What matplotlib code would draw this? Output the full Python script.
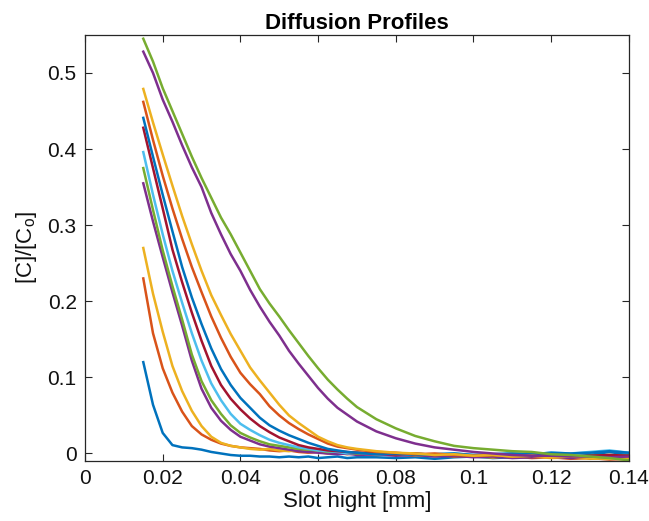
"""Diffusion profiles: normalised concentration vs. slot height, MATLAB look."""
import numpy as np
import matplotlib
matplotlib.use("Agg")
import matplotlib.pyplot as plt
from matplotlib.ticker import FuncFormatter

# sample positions along the slot [mm]
x = [0.015, 0.0175, 0.02, 0.0225, 0.025, 0.0275, 0.03, 0.0325, 0.035, 0.0375,
     0.04, 0.0425, 0.045, 0.0475, 0.05, 0.0525, 0.055, 0.0575, 0.06, 0.0625,
     0.065, 0.0675, 0.07, 0.075, 0.08, 0.085, 0.09, 0.095, 0.1, 0.105,
     0.11, 0.115, 0.12, 0.125, 0.13, 0.135, 0.14]

# [C]/[Co] profiles, in plotting order
p01 = [0.120, 0.064, 0.027, 0.011, 0.008, 0.007, 0.005, 0.002, 0.000, -0.002,
       -0.003, -0.003, -0.004, -0.004, -0.005, -0.004, -0.005, -0.004, -0.006, -0.005,
       -0.004, -0.006, -0.005, -0.005, -0.006, -0.005, -0.007, -0.005, -0.004, -0.006,
       -0.005, -0.004, -0.003, -0.004, -0.002, 0.002, -0.002]
p02 = [0.230, 0.158, 0.112, 0.080, 0.055, 0.036, 0.025, 0.018, 0.013, 0.010,
       0.008, 0.007, 0.006, 0.004, 0.003, 0.004, 0.002, 0.001, 0.002, 0.000,
       0.001, -0.001, 0.000, -0.002, -0.001, -0.003, -0.002, -0.004, -0.003, -0.005,
       -0.004, -0.006, -0.005, -0.007, -0.006, -0.008, -0.007]
p03 = [0.270, 0.210, 0.160, 0.115, 0.082, 0.056, 0.036, 0.022, 0.014, 0.010,
       0.008, 0.006, 0.005, 0.006, 0.004, 0.003, 0.005, 0.002, 0.003, 0.001,
       0.002, 0.000, 0.001, -0.001, 0.000, -0.002, -0.003, -0.002, -0.004, -0.005,
       -0.003, -0.004, -0.006, -0.005, -0.007, -0.006, -0.008]
p04 = [0.355, 0.305, 0.258, 0.212, 0.168, 0.122, 0.085, 0.060, 0.043, 0.031,
       0.022, 0.017, 0.012, 0.009, 0.007, 0.005, 0.003, 0.002, 0.001, 0.000,
       -0.001, 0.000, -0.002, -0.001, -0.003, -0.002, -0.004, -0.003, -0.005, -0.004,
       -0.006, -0.005, -0.004, -0.006, -0.005, -0.004, -0.005]
p05 = [0.375, 0.320, 0.267, 0.220, 0.176, 0.130, 0.095, 0.070, 0.052, 0.037,
       0.027, 0.021, 0.016, 0.012, 0.010, 0.008, 0.006, 0.005, 0.004, 0.002,
       0.003, 0.001, 0.000, 0.001, -0.001, 0.000, -0.002, -0.001, -0.003, -0.002,
       -0.004, -0.003, -0.002, -0.004, -0.003, -0.002, -0.003]
p06 = [0.396, 0.340, 0.288, 0.240, 0.198, 0.158, 0.122, 0.092, 0.070, 0.052,
       0.039, 0.031, 0.024, 0.018, 0.014, 0.011, 0.008, 0.006, 0.004, 0.003,
       0.002, 0.000, 0.001, -0.001, 0.000, -0.002, -0.001, 0.000, -0.002, -0.001,
       0.000, -0.001, 0.001, 0.000, 0.002, 0.004, 0.001]
p07 = [0.428, 0.375, 0.322, 0.268, 0.225, 0.185, 0.148, 0.115, 0.090, 0.072,
       0.058, 0.046, 0.036, 0.028, 0.021, 0.016, 0.011, 0.008, 0.006, 0.004,
       0.003, 0.002, 0.001, 0.000, -0.001, 0.000, -0.002, -0.001, -0.003, -0.002,
       -0.001, -0.003, -0.002, -0.004, -0.003, -0.002, -0.003]
p08 = [0.441, 0.390, 0.340, 0.292, 0.245, 0.205, 0.170, 0.138, 0.111, 0.090,
       0.073, 0.060, 0.047, 0.037, 0.030, 0.024, 0.019, 0.014, 0.010, 0.006,
       0.004, 0.002, 0.001, -0.001, 0.000, -0.002, -0.001, 0.000, -0.002, -0.001,
       0.000, -0.001, 0.001, 0.000, 0.001, 0.003, 0.001]
p09 = [0.462, 0.412, 0.365, 0.322, 0.282, 0.245, 0.212, 0.180, 0.152, 0.127,
       0.106, 0.091, 0.078, 0.062, 0.050, 0.040, 0.032, 0.025, 0.019, 0.013,
       0.009, 0.007, 0.005, 0.002, 0.001, -0.001, 0.000, -0.002, -0.003, -0.002,
       -0.004, -0.003, -0.005, -0.004, -0.006, -0.005, -0.006]
p10 = [0.479, 0.435, 0.393, 0.352, 0.312, 0.275, 0.240, 0.208, 0.182, 0.157,
       0.135, 0.113, 0.096, 0.080, 0.064, 0.050, 0.040, 0.031, 0.022, 0.016,
       0.011, 0.008, 0.006, 0.003, 0.001, 0.000, -0.002, -0.001, -0.003, -0.002,
       -0.004, -0.003, -0.005, -0.004, -0.006, -0.007, -0.006]
p11 = [0.528, 0.500, 0.465, 0.436, 0.405, 0.376, 0.350, 0.316, 0.288, 0.262,
       0.240, 0.215, 0.193, 0.173, 0.155, 0.135, 0.118, 0.102, 0.086, 0.072,
       0.060, 0.051, 0.042, 0.029, 0.020, 0.013, 0.008, 0.005, 0.002, 0.000,
       -0.002, -0.003, -0.003, -0.004, -0.004, -0.005, -0.004]
p12 = [0.545, 0.515, 0.480, 0.450, 0.420, 0.390, 0.362, 0.336, 0.310, 0.288,
       0.264, 0.240, 0.216, 0.197, 0.180, 0.162, 0.145, 0.128, 0.112, 0.097,
       0.084, 0.072, 0.061, 0.045, 0.033, 0.023, 0.016, 0.010, 0.007, 0.005,
       0.003, 0.002, -0.001, -0.002, -0.004, -0.006, -0.009]
profiles = [p01, p02, p03, p04, p05, p06, p07, p08, p09, p10, p11, p12]

# MATLAB default colour order
colors = ["#0072BD", "#D95319", "#EDB120", "#7E2F8E", "#77AC30", "#4DBEEE", "#A2142F"]

xticks = [0, 0.02, 0.04, 0.06, 0.08, 0.1, 0.12, 0.14]
yticks = [0, 0.1, 0.2, 0.3, 0.4, 0.5]

plt.rcParams["font.family"] = ["Liberation Sans", "DejaVu Sans"]
plt.rcParams["mathtext.fontset"] = "custom"
plt.rcParams["mathtext.rm"] = "Liberation Sans"

fig = plt.figure(figsize=(6.49, 5.21), dpi=100)
ax = fig.add_axes([0.131, 0.115, 0.838, 0.818])

for i, p in enumerate(profiles):
    ax.plot(x, p, color=colors[i % len(colors)], lw=1.8)

ax.set_xlim(0, 0.14)
ax.set_ylim(-0.01, 0.55)
ax.set_xticks(xticks)
ax.set_yticks(yticks)
fmt = FuncFormatter(lambda v, _: f"{v:g}")
ax.xaxis.set_major_formatter(fmt)
ax.yaxis.set_major_formatter(fmt)

axc = "#262626"
for s in ax.spines.values():
    s.set_color(axc); s.set_linewidth(0.9)
ax.tick_params(direction="in", top=True, right=True, length=5, width=0.8,
               color=axc, labelsize=15, labelcolor="#111111", pad=6)

ax.set_xlabel("Slot hight [mm]", fontsize=16, color="#111111", labelpad=2)
ax.set_ylabel(r"[C]/[C$_\mathrm{o}$]", fontsize=16, color="#111111", labelpad=6)
ax.set_title("Diffusion Profiles", fontsize=16, fontweight="bold", pad=4)

fig.savefig("out.png", dpi=100)
